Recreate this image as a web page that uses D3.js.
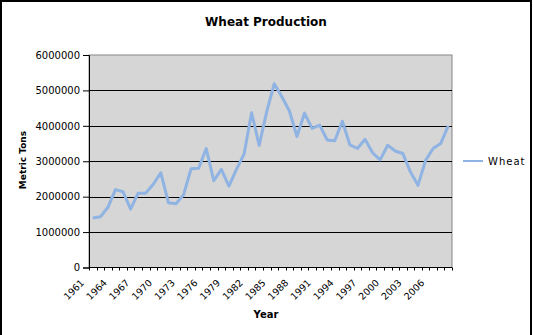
<!DOCTYPE html>
<html>
<head>
<meta charset="utf-8">
<script src="https://cdn.jsdelivr.net/npm/d3@7"></script>
<style>
  html, body { margin: 0; padding: 0; background: #fff; }
  svg { display: block; }
  text { font-family: "DejaVu Sans", Verdana, sans-serif; fill: #000; }
</style>
</head>
<body>
<svg id="chart" width="533" height="335"></svg>
<script>
// Annual wheat production, metric tons
const years = d3.range(1961, 2009);
const wheat = [
  1400000, 1430000, 1700000, 2200000, 2140000, 1650000, 2100000, 2100000,
  2350000, 2670000, 1830000, 1800000, 2050000, 2790000, 2800000, 3360000,
  2450000, 2770000, 2300000, 2770000, 3200000, 4370000, 3450000, 4400000,
  5190000, 4820000, 4420000, 3700000, 4360000, 3930000, 4020000, 3600000,
  3580000, 4130000, 3460000, 3360000, 3620000, 3240000, 3040000, 3450000,
  3290000, 3220000, 2700000, 2320000, 3020000, 3360000, 3500000, 4000000
];
const yTicks = [0, 1000000, 2000000, 3000000, 4000000, 5000000, 6000000];
const xLabels = [1961, 1964, 1967, 1970, 1973, 1976, 1979, 1982, 1985, 1988, 1991, 1994, 1997, 2000, 2003, 2006];
const seriesName = "Wheat";

const svg = d3.select("#chart");
const W = 533, H = 335;
const plot = { left: 89, right: 452, top: 55, bottom: 267.5 };

const x = d3.scaleBand().domain(years).range([plot.left, plot.right]).paddingInner(0).paddingOuter(0);
const y = d3.scaleLinear().domain([0, 6000000]).range([plot.bottom, plot.top]);

// outer frame
svg.append("rect")
  .attr("x", 1).attr("y", 1).attr("width", W - 3).attr("height", H + 10)
  .attr("fill", "#fff").attr("stroke", "#000").attr("stroke-width", 2);

// plot background
svg.append("rect")
  .attr("x", plot.left).attr("y", plot.top)
  .attr("width", plot.right - plot.left).attr("height", plot.bottom - plot.top)
  .attr("fill", "#d6d6d6").attr("stroke", "#858585").attr("stroke-width", 1);

// horizontal gridlines
svg.append("g").selectAll("line")
  .data(yTicks.filter(d => d > 0 && d < 6000000))
  .join("line")
  .attr("x1", plot.left).attr("x2", plot.right)
  .attr("y1", d => Math.round(y(d)) + 0.5).attr("y2", d => Math.round(y(d)) + 0.5)
  .attr("stroke", "#000").attr("stroke-width", 1);

// y axis
const yAxis = svg.append("g")
  .attr("transform", `translate(${plot.left},0)`)
  .call(d3.axisLeft(y).tickValues(yTicks).tickFormat(d3.format("d")).tickSize(6).tickPadding(3));
yAxis.select(".domain").attr("stroke", "#000");
yAxis.selectAll(".tick line").attr("stroke", "#000");
yAxis.selectAll("text").style("font-size", "10px").style("font-family", "'DejaVu Sans', sans-serif").attr("fill", "#000");

// x axis baseline and category tick marks
svg.append("line")
  .attr("x1", plot.left).attr("x2", plot.right)
  .attr("y1", plot.bottom).attr("y2", plot.bottom)
  .attr("stroke", "#000");
const bounds = years.map(d => x(d)).concat([x(years[years.length - 1]) + x.bandwidth()]);
svg.append("g").selectAll("line")
  .data(bounds)
  .join("line")
  .attr("x1", d => Math.round(d) + 0.5).attr("x2", d => Math.round(d) + 0.5)
  .attr("y1", plot.bottom).attr("y2", plot.bottom + 3)
  .attr("stroke", "#000");

// rotated year labels
svg.append("g").selectAll("text")
  .data(xLabels)
  .join("text")
  .attr("transform", d => `translate(${x(d) + x.bandwidth() / 2 - 8},${plot.bottom + 16}) rotate(-45)`)
  .attr("text-anchor", "end")
  .style("font-size", "9.5px")
  .text(d => d);

// series line
const line = d3.line()
  .x((d, i) => x(years[i]) + x.bandwidth() / 2)
  .y(d => y(d));
svg.append("path")
  .datum(wheat)
  .attr("d", line)
  .attr("fill", "none")
  .attr("stroke", "#8fb3e2")
  .attr("stroke-width", 3)
  .attr("stroke-linejoin", "round");

// title
svg.append("text")
  .attr("x", 266).attr("y", 26)
  .attr("text-anchor", "middle")
  .style("font-size", "12px").style("font-weight", "bold")
  .text("Wheat Production");

// axis titles
svg.append("text")
  .attr("x", 266).attr("y", 318)
  .attr("text-anchor", "middle")
  .style("font-size", "10px").style("font-weight", "bold")
  .text("Year");
svg.append("text")
  .attr("transform", "translate(26,160) rotate(-90)")
  .attr("text-anchor", "middle")
  .style("font-size", "9px").style("font-weight", "bold")
  .text("Metric Tons");

// legend
const lg = svg.append("g").attr("transform", "translate(463,161)");
lg.append("line").attr("x1", 0).attr("x2", 20).attr("y1", 0).attr("y2", 0)
  .attr("stroke", "#8fb3e2").attr("stroke-width", 2);
lg.append("text").attr("x", 25).attr("y", 4)
  .style("font-size", "10px").style("letter-spacing", "1px")
  .text(seriesName);
</script>
</body>
</html>
